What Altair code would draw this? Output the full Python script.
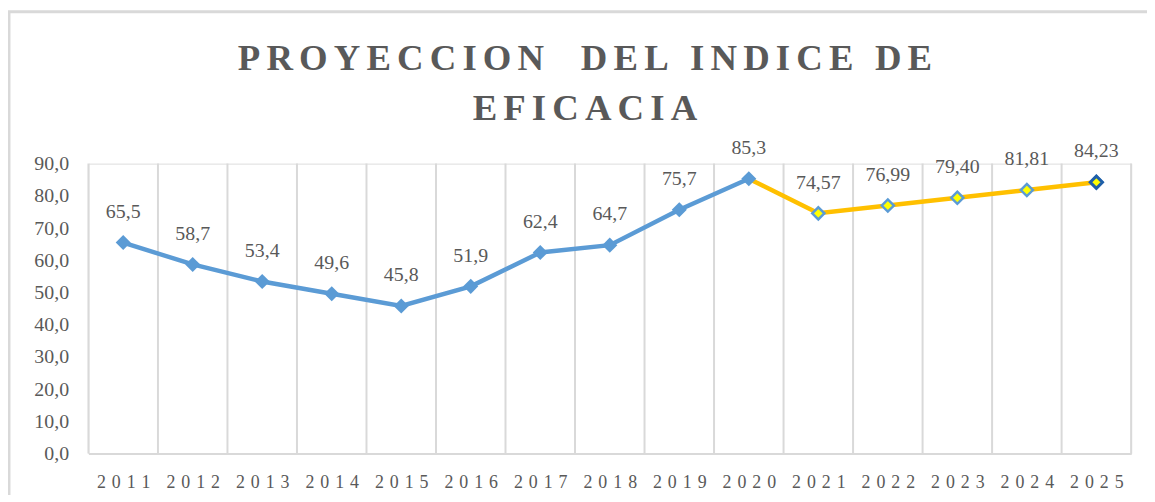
import altair as alt
import pandas as pd

years = list(range(2011, 2026))
real_years = [2011, 2012, 2013, 2014, 2015, 2016, 2017, 2018, 2019, 2020]
real_values = [65.5, 58.7, 53.4, 49.6, 45.8, 51.9, 62.4, 64.7, 75.7, 85.3]
proj_years = [2020, 2021, 2022, 2023, 2024, 2025]
proj_values = [85.3, 74.57, 76.99, 79.40, 81.81, 84.23]
y_ticks = [0, 10, 20, 30, 40, 50, 60, 70, 80, 90]
title_lines = ["PROYECCION  DEL INDICE DE", "EFICACIA"]

real = pd.DataFrame({"year": real_years, "v": real_values})
proj = pd.DataFrame({"year": proj_years, "v": proj_values})
proj_pts = proj[proj["year"] > 2020]
bounds = pd.DataFrame({"b": [y - 0.5 for y in years] + [years[-1] + 0.5]})

FONT = "Liberation Serif"
GRAY = "#595959"
GRID = "#D9D9D9"
BLUE = "#5B9BD5"
ORANGE = "#FFC000"

xscale = alt.Scale(domain=[years[0] - 0.5, years[-1] + 0.5], nice=False, zero=False)
yscale = alt.Scale(domain=[0, 90], nice=False)

x_axis = alt.Axis(values=years, labelExpr="replace(datum.label, /(\\d)(?=\\d)/g, '$1 \u200a')",
                  format="d", grid=False, ticks=False, domain=True,
                  domainColor=GRID, domainWidth=2, labelFont=FONT, labelFontSize=18,
                  labelColor=GRAY, labelPadding=20, labelFlush=False, labelOverlap=False)
y_axis = alt.Axis(values=y_ticks, labelExpr="replace(format(datum.value, '.1f'), '.', ',')",
                  grid=False, ticks=False, domain=False, labelFont=FONT, labelFontSize=20,
                  labelColor=GRAY, labelPadding=20, labelOverlap=False)
x_enc = alt.X("year:Q", scale=xscale, title=None, axis=x_axis)
y_enc = alt.Y("v:Q", scale=yscale, title=None, axis=y_axis)

one = pd.DataFrame({"a": [0]})
border = alt.Chart(one).mark_rect(
    filled=False, stroke=GRID, strokeWidth=3).encode(
    x=alt.value(-80), x2=alt.value(1300), y=alt.value(-153), y2=alt.value(700))

def spaced(s):
    return "\u200a\u200a".join(list(s))

title = alt.Chart(one).mark_text(
    font=FONT, fontSize=37, fontWeight="bold", color=GRAY, align="center",
    baseline="alphabetic", lineBreak="\n", lineHeight=50).encode(
    x=alt.value(500), y=alt.value(-94), text=alt.value("\n".join(spaced(s) for s in title_lines)))

grid = alt.Chart(bounds).mark_rule(color=GRID, strokeWidth=2).encode(
    x=alt.X("b:Q", scale=xscale, title=None, axis=x_axis), y=alt.value(0), y2=alt.value(292))

proj_line = alt.Chart(proj).mark_line(color=ORANGE, strokeWidth=4.5).encode(x=x_enc, y=y_enc)
real_line = alt.Chart(real).mark_line(color=BLUE, strokeWidth=4.5).encode(x=x_enc, y=y_enc)
real_pts = alt.Chart(real).mark_point(shape="diamond", filled=True, color=BLUE, size=230, opacity=1).encode(x=x_enc, y=y_enc)
proj_pts_mark = alt.Chart(proj_pts).mark_point(shape="diamond", filled=True, fill="#FFFF00",
                                               stroke=BLUE, strokeWidth=2.5, size=150, opacity=1).encode(x=x_enc, y=y_enc)
last_pt = alt.Chart(proj_pts[proj_pts["year"] == 2025]).mark_point(
    shape="diamond", filled=True, fill="#FFFF00", stroke="#1F5FA8", strokeWidth=3, size=150, opacity=1).encode(x=x_enc, y=y_enc)

real_lbl = alt.Chart(real).transform_calculate(
    t="replace(format(datum.v, '.1f'), '.', ',')").mark_text(
    font=FONT, fontSize=20, color=GRAY, dy=-31, baseline="middle").encode(x=x_enc, y=y_enc, text="t:N")
proj_lbl = alt.Chart(proj_pts).transform_calculate(
    t="replace(format(datum.v, '.2f'), '.', ',')").mark_text(
    font=FONT, fontSize=20, color=GRAY, dy=-31, baseline="middle").encode(x=x_enc, y=y_enc, text="t:N")

chart = alt.layer(border, title, grid, proj_line, real_line, real_pts, proj_pts_mark, last_pt,
                  real_lbl, proj_lbl).properties(
    width=1050, height=292,
    padding={"left": 81, "top": 155, "right": 16, "bottom": 40},
    autosize=alt.AutoSizeParams(type="none"),
).configure_view(stroke=None).configure(background="white")

chart.save("out.html", embed_options={"renderer": "svg", "actions": False})
